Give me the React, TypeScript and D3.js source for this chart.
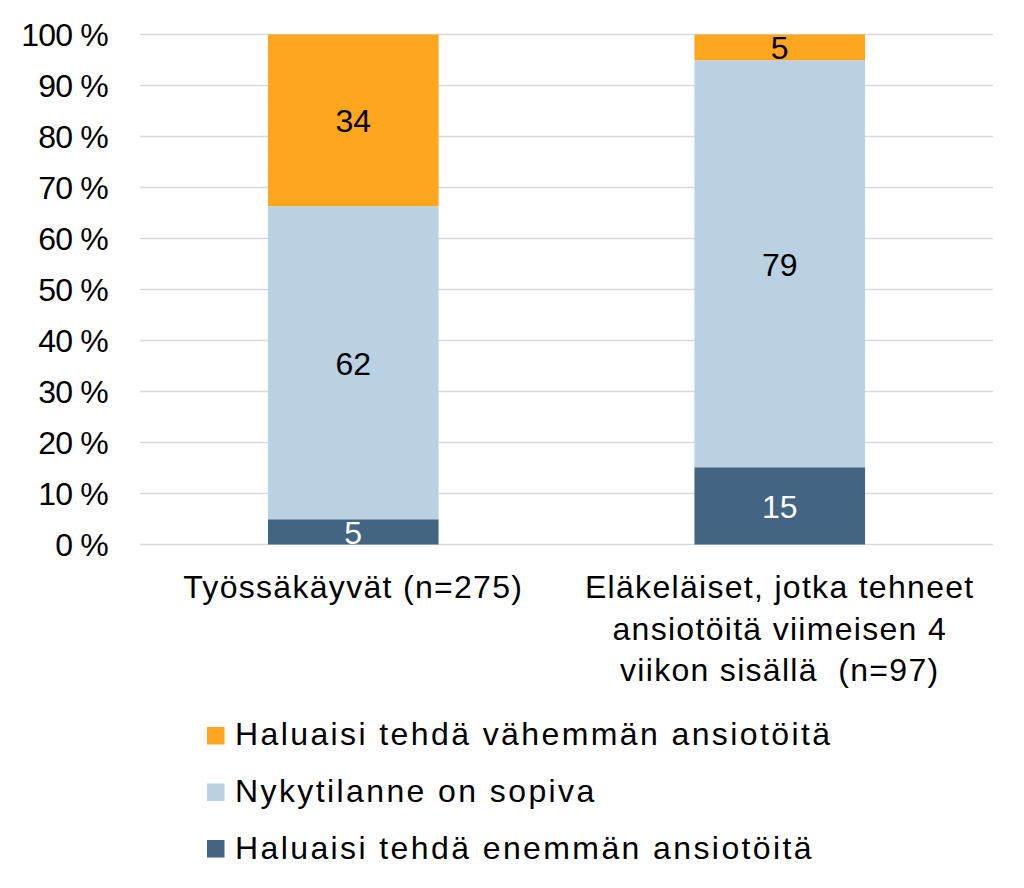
import React from "react";
import * as d3 from "d3";

const categories = ["Työssäkäyvät (n=275)", "Eläkeläiset, jotka tehneet ansiotöitä viimeisen 4 viikon sisällä  (n=97)"];
const categoryLines = [["Työssäkäyvät (n=275)"], ["Eläkeläiset, jotka tehneet", "ansiotöitä viimeisen 4", "viikon sisällä  (n=97)"]];
const seriesNames = ["Haluaisi tehdä enemmän ansiotöitä", "Nykytilanne on sopiva", "Haluaisi tehdä vähemmän ansiotöitä"];
const enemman = [5, 15];
const sopiva = [62, 79];
const vahemman = [34, 5];
const colors = ["#436482", "#B9D1E2", "#FFA61F"];
const labelColors = ["#ffffff", "#000000", "#000000"];
const yTicks = [0, 10, 20, 30, 40, 50, 60, 70, 80, 90, 100];
const legendOrder = [2, 1, 0];

const FONT = "'Liberation Sans', Arial, sans-serif";

export default function App() {
  const W = 1024, H = 888;
  const left = 140, right = 993, top = 34.5, bottom = 544.5;
  const x = d3.scaleBand<string>().domain(categories).range([left, right]).paddingInner(0.6).paddingOuter(0.3);
  const y = d3.scaleLinear().domain([0, 1]).range([bottom, top]);
  const rows = categories.map((c, i) => ({ cat: c, s0: enemman[i], s1: sopiva[i], s2: vahemman[i] }));
  const stack = d3.stack<any>().keys(["s0", "s1", "s2"]).offset(d3.stackOffsetExpand);
  const stacked = stack(rows);
  const raw = [enemman, sopiva, vahemman];
  const fs = 32;
  return (
    <svg width={W} height={H} style={{ position: "absolute", left: 0, top: 0, background: "#fff" }} fontFamily={FONT}>
      <rect x={0} y={0} width={W} height={H} fill="#fff" />
      {yTicks.map((t) => (
        <g key={t}>
          <line x1={left} x2={right} y1={y(t / 100)} y2={y(t / 100)} stroke="#d9d9d9" strokeWidth={1.5} />
          <text x={108} y={y(t / 100) + 11} textAnchor="end" fontSize={fs} fill="#000" letterSpacing={-0.8} style={{ whiteSpace: "pre" }}>{`${t} %`}</text>
        </g>
      ))}
      {stacked.map((layer, si) => (
        <g key={si}>
          {layer.map((d, ci) => (
            <g key={ci}>
              <rect x={x(categories[ci])} width={x.bandwidth()} y={y(d[1])} height={y(d[0]) - y(d[1])} fill={colors[si]} />
              <text x={(x(categories[ci]) as number) + x.bandwidth() / 2} y={(y(d[0]) + y(d[1])) / 2 + 12} textAnchor="middle" fontSize={fs} fill={labelColors[si]}>{raw[si][ci]}</text>
            </g>
          ))}
        </g>
      ))}
      {categories.map((c, ci) => (
        <text key={c} textAnchor="middle" fontSize={fs} fill="#000" letterSpacing={1.3} style={{ whiteSpace: "pre" }}>
          {categoryLines[ci].map((ln, li) => (
            <tspan key={li} x={(x(c) as number) + x.bandwidth() / 2} y={598 + li * 41.5}>{ln}</tspan>
          ))}
        </text>
      ))}
      {legendOrder.map((si, i) => (
        <g key={si}>
          <rect x={207} y={727 + i * 56.5} width={17.5} height={17.5} fill={colors[si]} />
          <text x={235} y={745 + i * 57} fontSize={fs} fill="#000" letterSpacing={2.4}>{seriesNames[si]}</text>
        </g>
      ))}
    </svg>
  );
}
